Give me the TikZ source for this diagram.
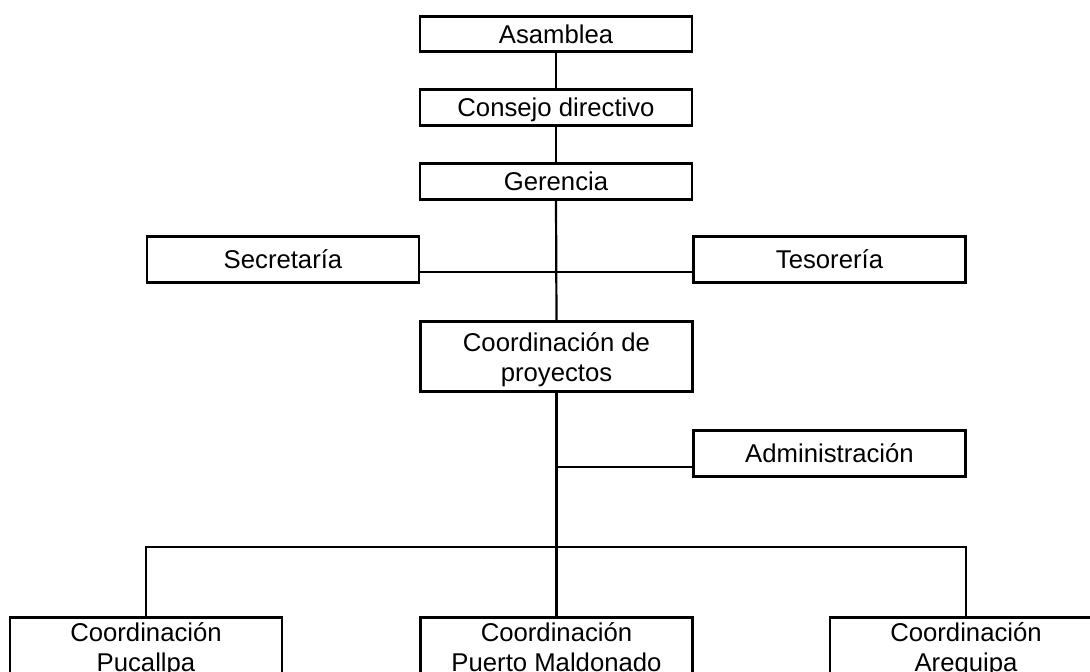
\documentclass[tikz,border=0pt]{standalone}
\usepackage{fontspec}
\setmainfont{Liberation Sans}
\begin{document}
\begin{tikzpicture}[x=1pt,y=-1pt,
  box/.style={draw, line width=2.2pt, minimum width=272pt, inner sep=0pt,
    font=\fontsize{25.7}{30}\selectfont, align=center},
  one/.style={box, text height=18.4pt, text depth=0pt},
  two/.style={box, text height=50.4pt, text depth=0pt},
  conn/.style={line width=2.2pt}]
\useasboundingbox (0,0) rectangle (1090,672);
\clip (0,0) rectangle (1090,672);
% nodes
\node[one, minimum height=35pt] (asam) at (556,34) {Asamblea};
\node[one, minimum height=36pt] (cons) at (556,107.5) {Consejo directivo};
\node[one, minimum height=36pt] (ger) at (556,181.5) {Gerencia};
\node[one, minimum height=46pt] (sec) at (283,259.5) {Secretaría};
\node[one, minimum height=46pt] (tes) at (829.5,259.5) {Tesorería};
\node[two, minimum height=70pt] (cproy) at (556.5,356.5) {Coordinación de\\proyectos};
\node[one, minimum height=46pt] (adm) at (829.5,453.5) {Administración};
\node[two, minimum height=58pt] (puc) at (146,646.5) {Coordinación\\Pucallpa};
\node[two, minimum height=58pt] (pm) at (556.5,646.5) {Coordinación\\Puerto Maldonado};
\node[two, minimum height=58pt] (areq) at (966,646.5) {Coordinación\\Arequipa};
% junctions
\coordinate (j1) at (556,272);
\coordinate (j2) at (556,467);
\coordinate (j3) at (556,547);
% connectors
\draw[conn] (asam.south) -- (cons.north);
\draw[conn] (cons.south) -- (ger.north);
\draw[conn] (ger.south) -- (cproy.north);
\draw[conn] (sec.east |- j1) -- (tes.west |- j1);
\draw[conn] (cproy.south) -- (pm.north);
\draw[conn] (j2) -- (adm.west |- j2);
\draw[conn] (puc.north) -- (puc.north |- j3) -- (areq.north |- j3) -- (areq.north);
\end{tikzpicture}
\end{document}
